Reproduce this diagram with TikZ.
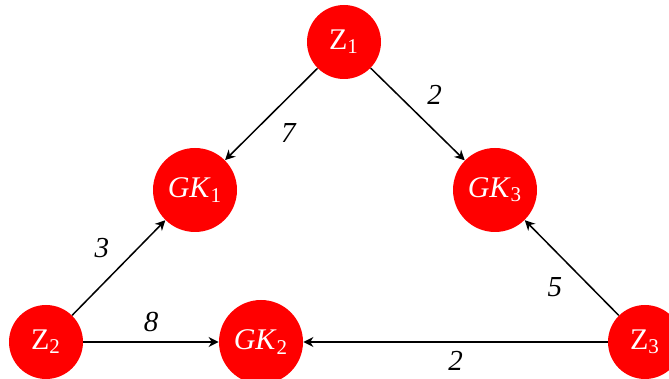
\documentclass[tikz,border=0pt]{standalone}
\usepackage{fontspec}
\setmainfont{Liberation Serif}
\usetikzlibrary{arrows.meta}
\begin{document}
\begin{tikzpicture}[x=0.5pt,y=0.5pt,
    zn/.style={circle,fill=red,text=white,minimum size=37pt,inner sep=0pt,font=\fontsize{15}{17}\selectfont},
    gk/.style={zn,minimum size=42pt},
    ar/.style={-{Stealth[length=5pt,width=5pt,inset=1.6pt]},line width=0.75pt,draw=black},
    wt/.style={inner sep=4.5pt,font=\fontsize{14.5}{16}\selectfont\itshape}]
    \useasboundingbox (0,0) rectangle (669,379);
    \node[zn] (z1) at (344,337) {Z\textsubscript{1}};
    \node[gk] (gk1) at (195,189) {\textit{GK}\textsubscript{1}};
    \node[gk] (gk3) at (495,189) {\textit{GK}\textsubscript{3}};
    \node[zn] (z2) at (46,37) {Z\textsubscript{2}};
    \node[gk] (gk2) at (261,37) {\textit{GK}\textsubscript{2}};
    \node[zn] (z3) at (645,37) {Z\textsubscript{3}};
    \draw[ar] (z1) -- node[wt,midway,below right] {7} (gk1);
    \draw[ar] (z1) -- node[wt,midway,above right] {2} (gk3);
    \draw[ar] (z2) -- node[wt,midway,above left] {3} (gk1);
    \draw[ar] (z2) -- node[wt,midway,above] {8} (gk2);
    \draw[ar] (z3) -- node[wt,midway,below] {2} (gk2);
    \draw[ar] (z3) -- node[wt,midway,below left] {5} (gk3);
\end{tikzpicture}
\end{document}
